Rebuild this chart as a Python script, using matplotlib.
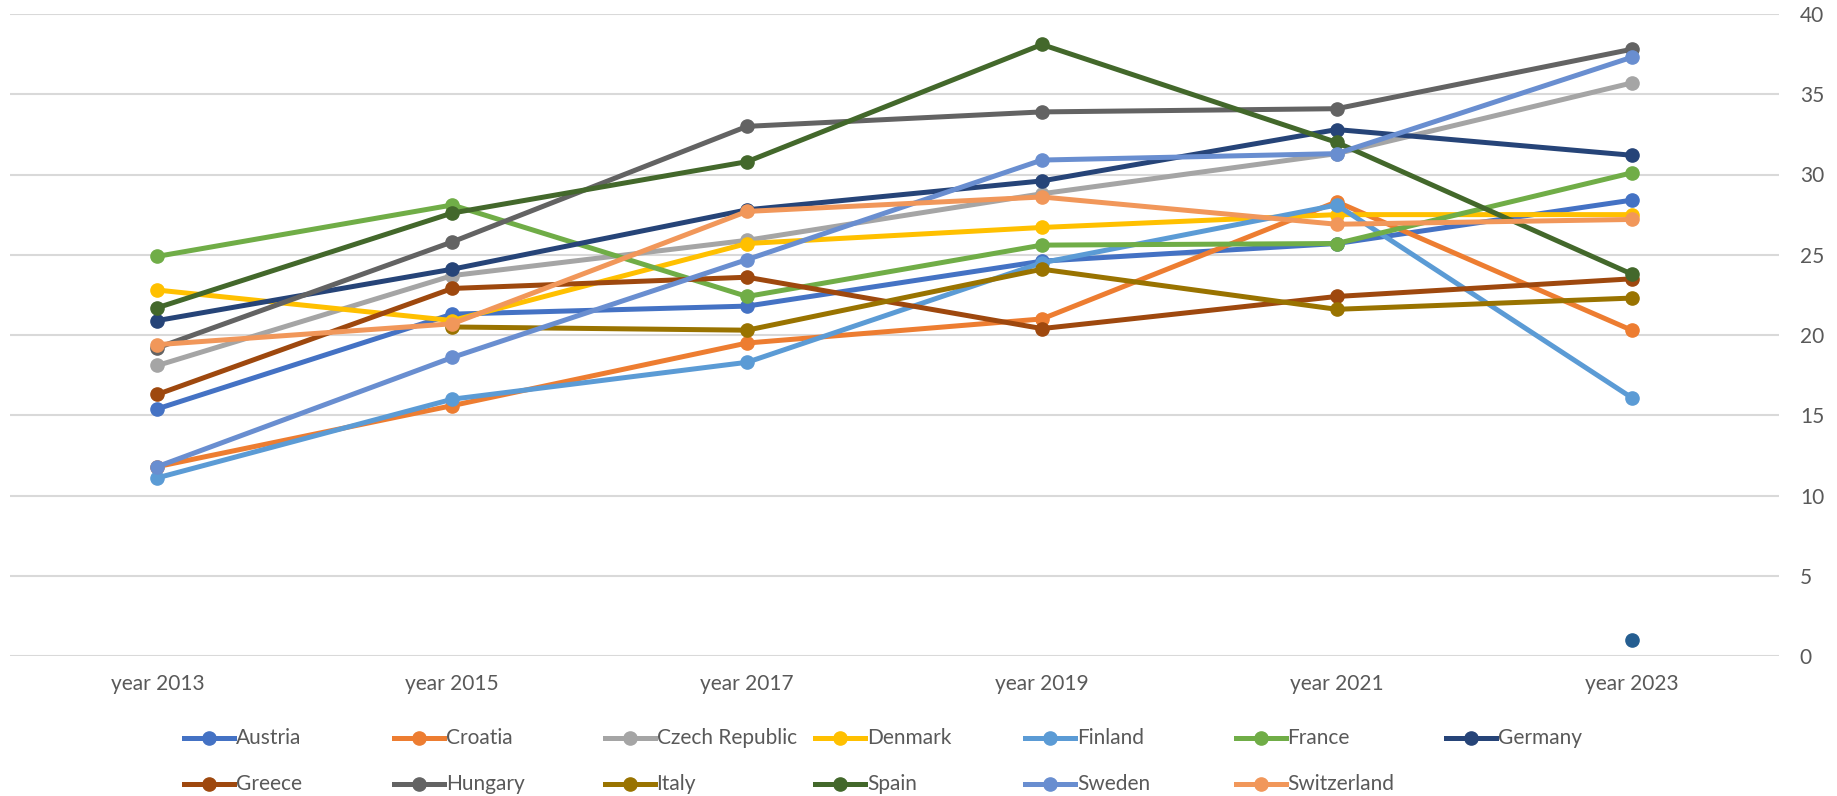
import matplotlib
matplotlib.use("Agg")
import matplotlib.pyplot as plt
from matplotlib.lines import Line2D
import numpy as np

years = ["year 2013", "year 2015", "year 2017", "year 2019", "year 2021", "year 2023"]

austria = [15.4, 21.3, 21.8, 24.6, 25.7, 28.4]
croatia = [11.8, 15.6, 19.5, 21.0, 28.3, 20.3]
czech = [18.1, 23.7, 25.9, 28.8, 31.3, 35.7]
denmark = [22.8, 20.9, 25.7, 26.7, 27.5, 27.5]
finland = [11.1, 16.0, 18.3, 24.5, 28.1, 16.1]
france = [24.9, 28.1, 22.4, 25.6, 25.7, 30.1]
germany = [20.9, 24.1, 27.8, 29.6, 32.8, 31.2]
greece = [16.3, 22.9, 23.6, 20.4, 22.4, 23.5]
hungary = [19.2, 25.8, 33.0, 33.9, 34.1, 37.8]
italy = [np.nan, 20.5, 20.3, 24.1, 21.6, 22.3]
other = [np.nan, np.nan, np.nan, np.nan, np.nan, 1.0]
spain = [21.7, 27.6, 30.8, 38.1, 32.0, 23.8]
sweden = [11.8, 18.6, 24.7, 30.9, 31.3, 37.3]
switzerland = [19.4, 20.7, 27.7, 28.6, 26.9, 27.2]

names = ["Austria", "Croatia", "Czech Republic", "Denmark", "Finland", "France",
         "Germany", "Greece", "Hungary", "Italy", "", "Spain", "Sweden", "Switzerland"]
values = [austria, croatia, czech, denmark, finland, france, germany, greece,
          hungary, italy, other, spain, sweden, switzerland]
colors = ["#4472C4", "#ED7D31", "#A5A5A5", "#FFC000", "#5B9BD5", "#70AD47",
          "#264478", "#9E480E", "#636363", "#997300", "#255E91", "#43682B",
          "#698ED0", "#F1975A"]

plt.rcParams["font.family"] = ["Lato", "DejaVu Sans"]
txt = "#595959"

W, H = 1837, 796
fig = plt.figure(figsize=(W / 100, H / 100), dpi=100)
ax = fig.add_axes([10 / W, 1 - 656 / H, (1779 - 10) / W, (656 - 14) / H])

x = np.arange(len(years))
for name, vals, c in zip(names, values, colors):
    ax.plot(x, vals, color=c, lw=3.6, marker="o", ms=9.5, solid_capstyle="round")

ax.set_xlim(-0.5, len(years) - 0.5)
ax.set_ylim(0, 40)
ax.set_yticks(range(0, 41, 5))
ax.set_xticks(x)
ax.set_xticklabels(years)
ax.yaxis.tick_right()
ax.tick_params(length=0, labelsize=15, colors=txt)
ax.tick_params(axis="y", pad=15)
ax.tick_params(axis="x", pad=13)
ax.grid(axis="y", color="#D9D9D9", lw=1.5)
ax.set_axisbelow(True)
for s in ax.spines.values():
    s.set_visible(False)

# legend, laid out in fixed-width columns like the original
col_w = 210.3
x0 = 184
rows_y = [738, 784]
k = 0
for name, c in zip(names, colors):
    if not name:
        continue
    r, col = divmod(k, 7)
    xs = x0 + col * col_w
    yy = 1 - rows_y[r] / H
    fig.add_artist(Line2D([xs / W, (xs + 50) / W], [yy, yy], color=c, lw=3.6,
                          transform=fig.transFigure))
    fig.add_artist(Line2D([(xs + 25) / W], [yy], color=c, marker="o", ms=9.5,
                          transform=fig.transFigure))
    fig.text((xs + 52) / W, yy, name, fontsize=15, color=txt, va="center", ha="left")
    k += 1

fig.savefig("out.png", dpi=100)
